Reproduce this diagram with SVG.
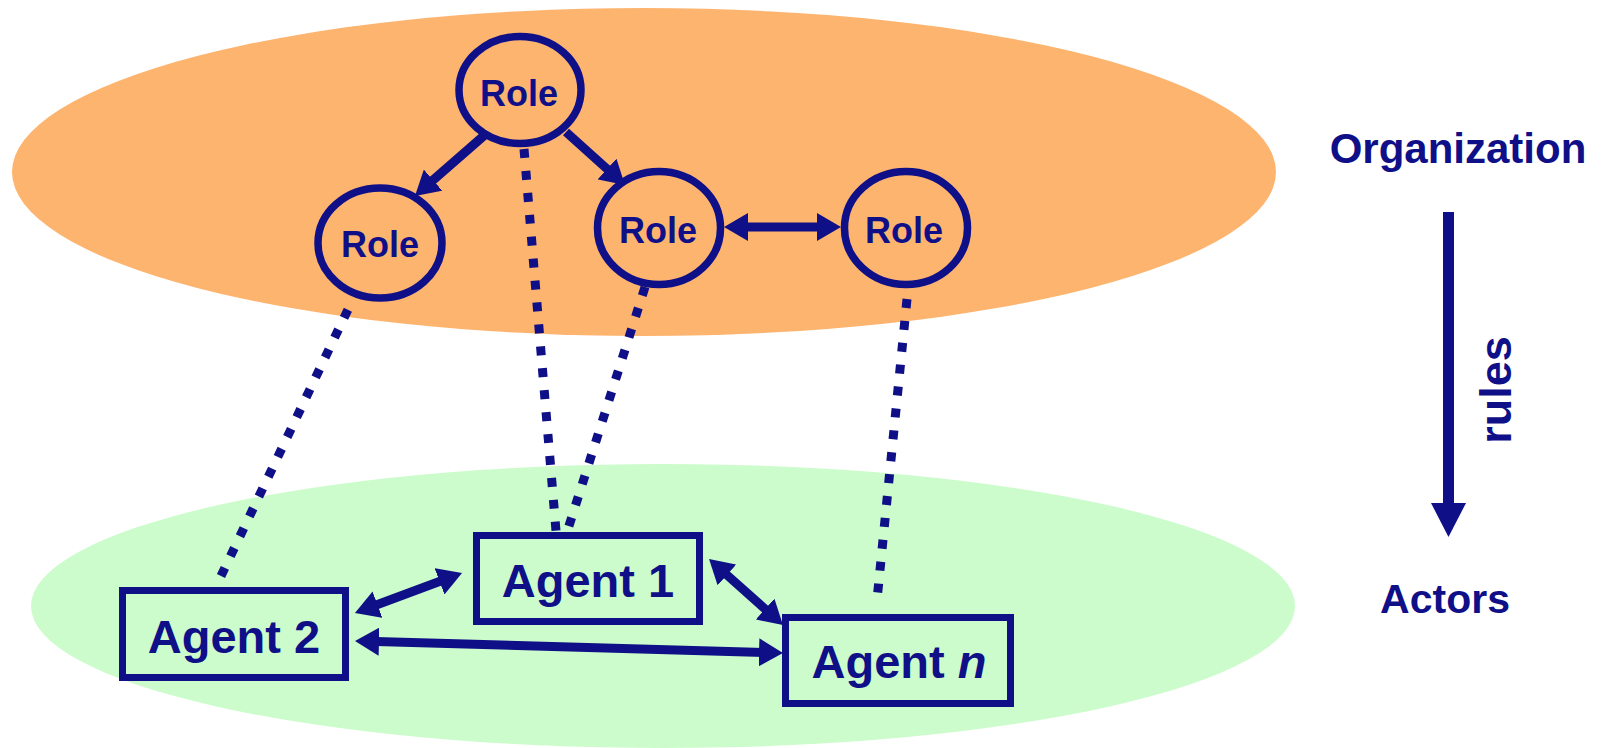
<svg xmlns="http://www.w3.org/2000/svg" width="1601" height="748" viewBox="0 0 1601 748">
<style>
.t{font-family:"Liberation Sans",Arial,sans-serif;font-weight:bold;fill:#0f0f88;text-anchor:middle}
.role{fill:none;stroke:#0f0f88;stroke-width:7.5}
.box{fill:none;stroke:#0f0f88;stroke-width:7}
.arr{fill:none;stroke:#0f0f88;stroke-width:9}
.dot{fill:none;stroke:#0f0f88;stroke-width:9;stroke-dasharray:9 13}
</style>
<defs>
<marker id="ah" markerUnits="userSpaceOnUse" markerWidth="24" markerHeight="28" refX="12" refY="14" orient="auto-start-reverse" viewBox="0 0 24 28">
<path d="M0,0 L24,14 L0,28 z" fill="#0f0f88"/>
</marker>
</defs>
<g id="layers">
<ellipse cx="644" cy="172" rx="632" ry="164" fill="#fdb46f"/>
<ellipse cx="663" cy="606" rx="632" ry="142" fill="#ccfccc"/>
</g>
<g id="connectors">
<line class="dot" x1="221" y1="576" x2="353" y2="299"/>
<line class="dot" x1="524" y1="149" x2="556" y2="531"/>
<line class="dot" x1="645" y1="287" x2="568" y2="529"/>
<line class="dot" x1="907" y1="299" x2="877" y2="600"/>
<line class="arr" x1="487" y1="133" x2="424" y2="188" marker-end="url(#ah)"/>
<line class="arr" x1="566" y1="132" x2="616" y2="177" marker-end="url(#ah)"/>
<line class="arr" x1="736" y1="227" x2="829" y2="227" marker-start="url(#ah)" marker-end="url(#ah)"/>
<line class="arr" x1="366.2" y1="608.8" x2="450.8" y2="577.2" marker-start="url(#ah)" marker-end="url(#ah)"/>
<line class="arr" x1="367" y1="641.3" x2="771" y2="652.7" marker-start="url(#ah)" marker-end="url(#ah)"/>
<line class="arr" x1="718" y1="567" x2="774" y2="617" marker-start="url(#ah)" marker-end="url(#ah)"/>
</g>
<g id="role-top">
<ellipse class="role" cx="520" cy="90" rx="61" ry="53.5"/>
<text class="t" x="519" y="106" font-size="36">Role</text>
</g>
<g id="role-left">
<ellipse class="role" cx="380" cy="243" rx="62" ry="55"/>
<text class="t" x="380" y="257" font-size="36">Role</text>
</g>
<g id="role-mid">
<ellipse class="role" cx="659" cy="228" rx="61.5" ry="56.5"/>
<text class="t" x="658" y="243" font-size="36">Role</text>
</g>
<g id="role-right">
<ellipse class="role" cx="906" cy="228" rx="61.5" ry="56.5"/>
<text class="t" x="904" y="243" font-size="36">Role</text>
</g>
<g id="agent-1">
<rect class="box" x="476.5" y="535.5" width="223" height="86" fill="#ccfccc"/>
<text class="t" x="588" y="597" font-size="47">Agent 1</text>
</g>
<g id="agent-2">
<rect class="box" x="122.5" y="590.5" width="223" height="87"/>
<text class="t" x="234" y="653" font-size="47">Agent 2</text>
</g>
<g id="agent-n">
<rect class="box" x="785.5" y="617.5" width="225" height="86"/>
<text class="t" x="899" y="678" font-size="47">Agent <tspan font-style="italic">n</tspan></text>
</g>
<g id="legend">
<text class="t" x="1458" y="163" font-size="42">Organization</text>
<text class="t" x="1445" y="613" font-size="41">Actors</text>
<line x1="1448.5" y1="212" x2="1448.5" y2="508" stroke="#0f0f88" stroke-width="11"/>
<polygon points="1431,503 1466,503 1448.5,537" fill="#0f0f88"/>
<text class="t" x="0" y="0" font-size="45" transform="translate(1511,390) rotate(-90)">rules</text>
</g>
</svg>
